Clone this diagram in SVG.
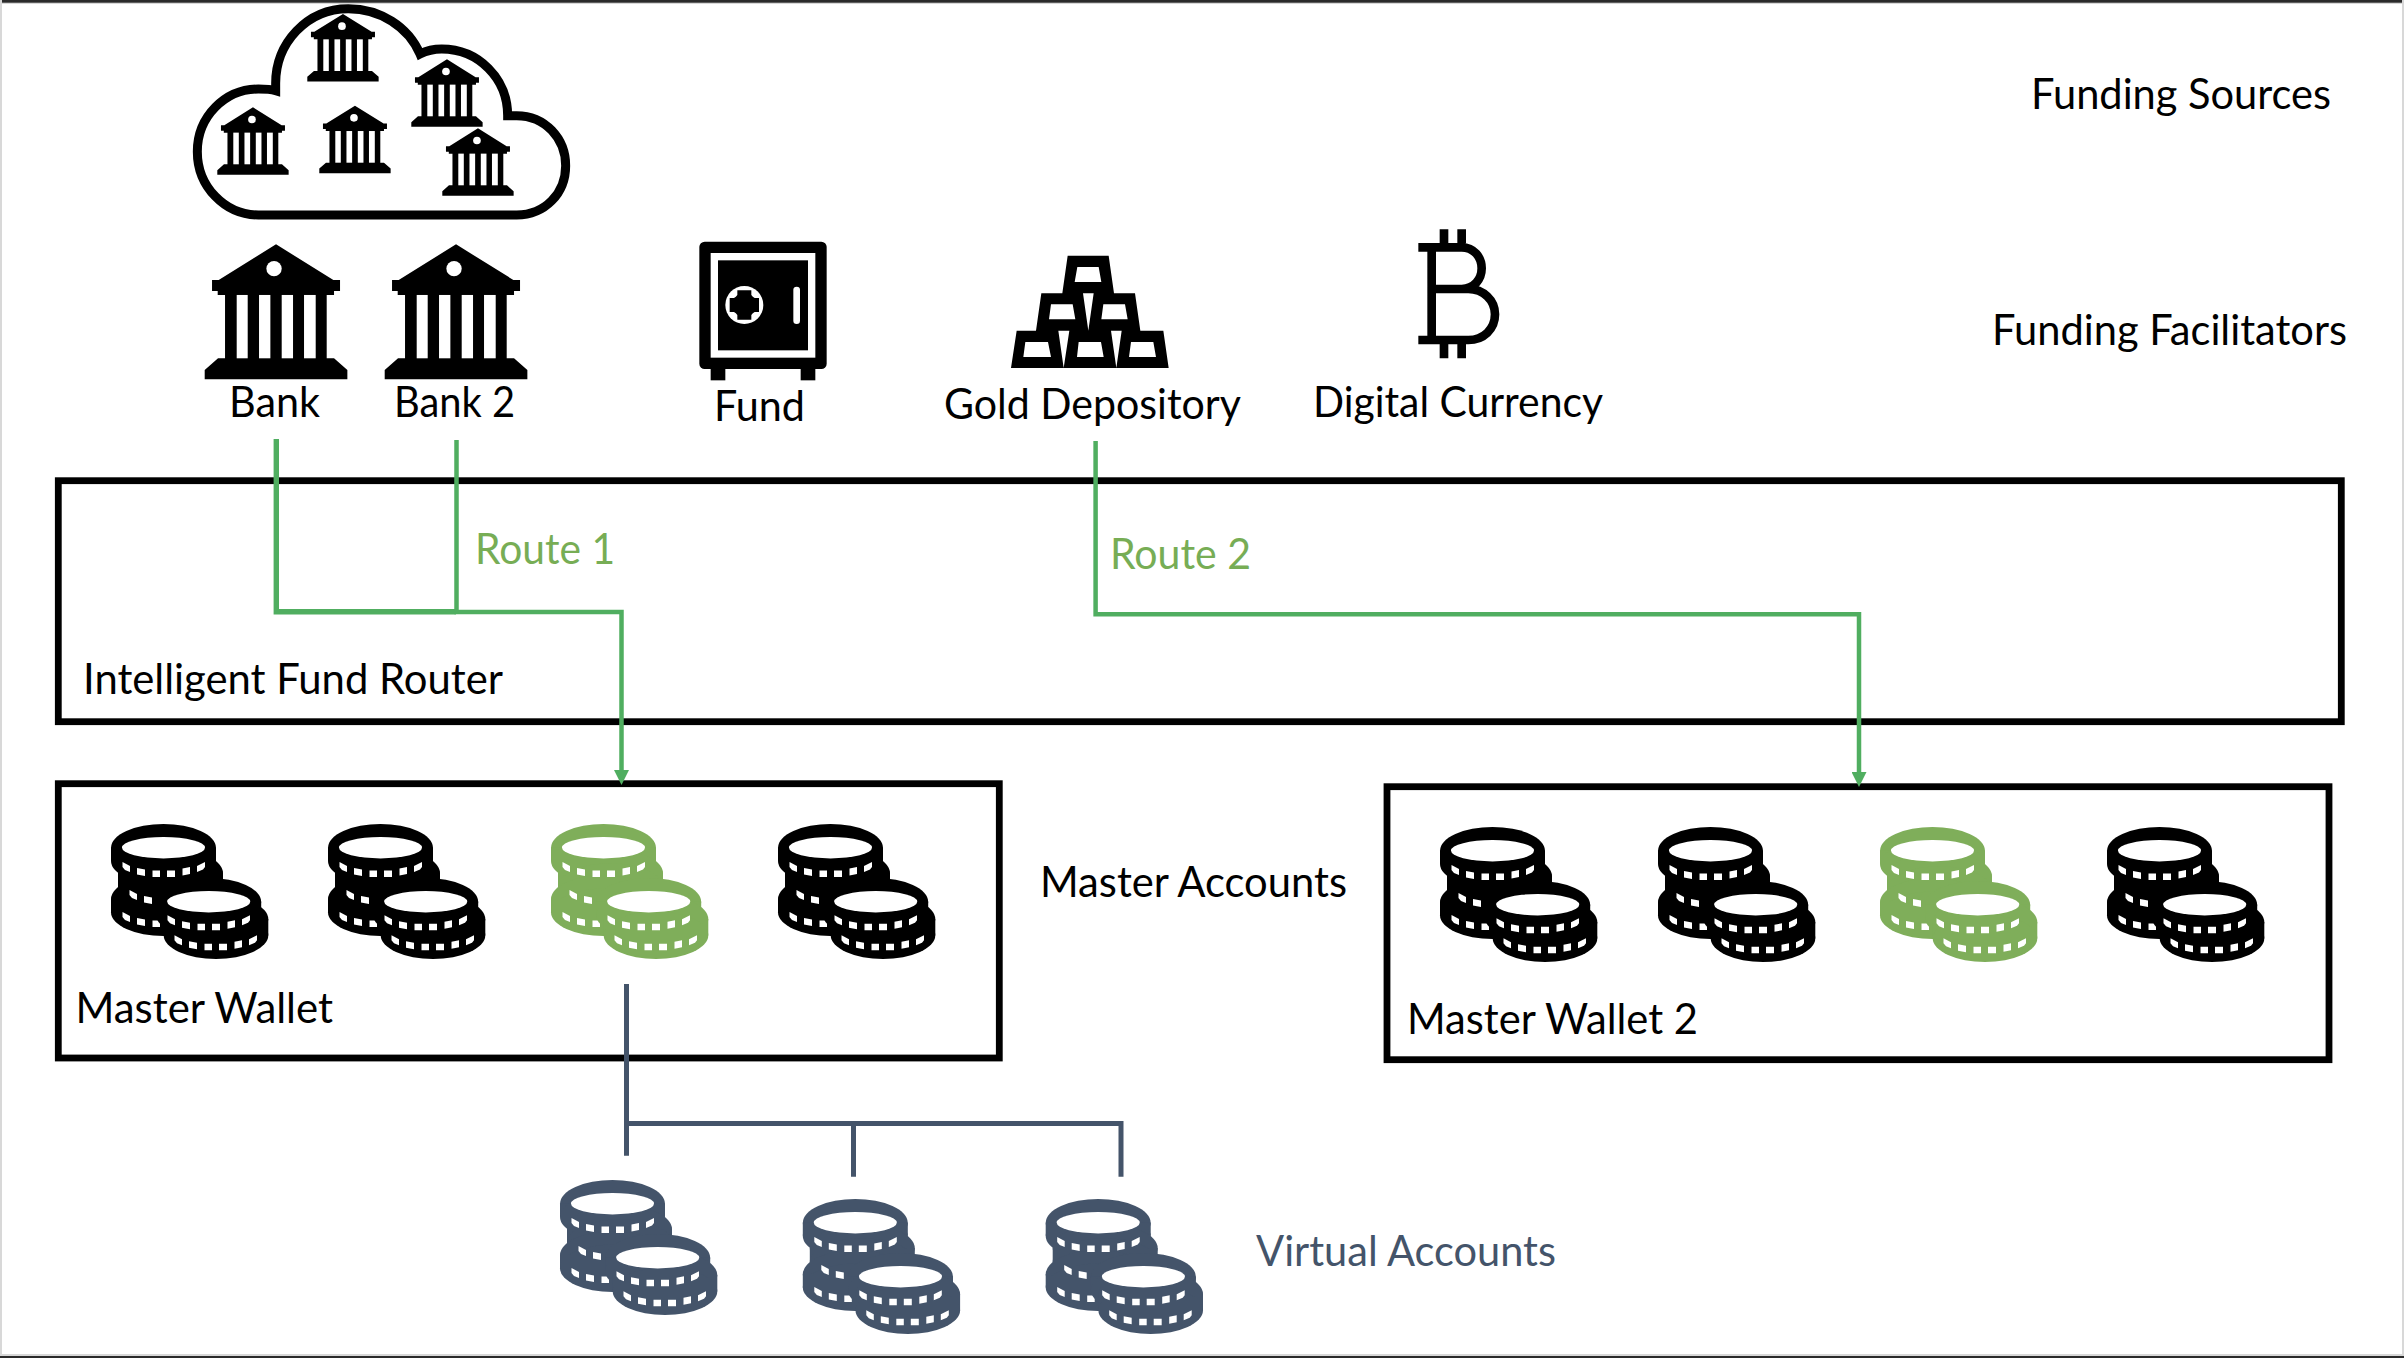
<svg xmlns="http://www.w3.org/2000/svg" xmlns:xlink="http://www.w3.org/1999/xlink" width="2404" height="1358" viewBox="0 0 2404 1358">
<style>
text{font-family:"Lato","Liberation Sans",sans-serif;font-size:42px;fill:#000}
.g{fill:#77AD55}
.b{fill:#44546A}
.box{fill:none;stroke:#000;stroke-width:6.8}
.rt{fill:none;stroke:#50AE60;stroke-width:4.5}
.vt{fill:none;stroke:#44546A;stroke-width:5}
.w{fill:#fff}
</style>
<defs>
<marker id="ah" markerUnits="userSpaceOnUse" markerWidth="15" markerHeight="15" refX="0" refY="7.5" orient="auto" viewBox="0 0 15 15"><path d="M0 0L15 7.5L0 15Z" fill="#50AE60"/></marker>
<g id="bank">
<path d="M214 0L386 107H406V140H388V152H366V342H388L428 377V405H0V377L40 342H61V152H39V140H22V107H42Z"/>
<g class="w"><circle cx="208" cy="73" r="23"/><rect x="96" y="152" width="33" height="190"/><rect x="163" y="152" width="34" height="190"/><rect x="231" y="152" width="34" height="190"/><rect x="298" y="152" width="35" height="190"/></g>
</g>
<g id="t">
<path d="M32.5 51L40 55V61L35 59L32.5 56Z M47 57L55 58.5V65L47 63.5Z M62.5 59.5H70V66H62.5Z M77 59.5H85V66H77Z M92.5 57.5L100 56V63L92.5 64.5Z M107 55L115 51V56L113 58.5L107 61Z" class="w"/>
</g>
<g id="coins" fill="currentColor">
<ellipse cx="73.5" cy="36.7" rx="52.5" ry="23.7"/><rect x="21" y="36.7" width="105" height="13"/><ellipse cx="73.5" cy="50" rx="52.5" ry="23.7"/>
<ellipse cx="80.5" cy="62" rx="52.5" ry="23.7"/><rect x="28" y="62" width="105" height="14"/><ellipse cx="80.5" cy="76" rx="52.5" ry="23.7"/>
<ellipse cx="73.5" cy="88" rx="52.5" ry="23.7"/><rect x="21" y="88" width="105" height="13.3"/><ellipse cx="73.5" cy="101.3" rx="52.5" ry="23.7"/>
<ellipse class="w" cx="73.5" cy="36.7" rx="41.5" ry="10.7"/>
<use href="#t"/><use href="#t" transform="translate(7 28)"/><use href="#t" transform="translate(0 50)"/>
<ellipse cx="118.7" cy="90.7" rx="52.5" ry="23.7"/><rect x="66.2" y="90.7" width="105" height="13"/><ellipse cx="118.7" cy="104" rx="52.5" ry="23.7"/>
<ellipse cx="126" cy="108" rx="52.3" ry="23.7"/><rect x="73.7" y="108" width="104.6" height="16.3"/><ellipse cx="126" cy="124.3" rx="52.3" ry="23.7"/>
<ellipse class="w" cx="118.7" cy="90.7" rx="41.5" ry="10.7"/>
<use href="#t" transform="translate(45 53.3)"/><use href="#t" transform="translate(52 73.3)"/>
</g>
</defs>
<rect width="2404" height="1358" fill="#fff"/>
<g id="frame">
<rect x="0" y="0" width="2404" height="4" fill="#d8d8d8"/><rect x="0" y="0" width="2404" height="2.7" fill="#2b2b2b"/>
<rect x="0" y="0" width="2" height="1358" fill="#d8d8d8"/><rect x="2402" y="0" width="2" height="1358" fill="#d8d8d8"/>
<rect x="0" y="1354" width="2404" height="4" fill="#d8d8d8"/><rect x="0" y="1356" width="2404" height="2" fill="#2b2b2b"/>
</g>
<g id="funding-sources">
<path transform="translate(170 0) scale(.33333)" d="M265 645H1040C1125 645 1187 580 1187 497C1187 415 1125 347 1040 347H1013C1013 235 925 147 815 147C790 147 770 152 750 162C715 80 630 26 535 26C410 26 317 130 317 250V272C300 267 285 267 265 267C165 267 82 350 82 455C82 560 165 645 265 645Z" fill="none" stroke="#000" stroke-width="27"/>
<use href="#bank" transform="translate(307.3 14) scale(.16667)"/>
<use href="#bank" transform="translate(411.3 59.3) scale(.16667)"/>
<use href="#bank" transform="translate(217.3 107.3) scale(.16667)"/>
<use href="#bank" transform="translate(319.3 105.7) scale(.16667)"/>
<use href="#bank" transform="translate(442.3 128.3) scale(.16667)"/>
<text x="2031" y="109" textLength="300" lengthAdjust="spacingAndGlyphs">Funding Sources</text>
</g>
<g id="funding-facilitators"><text x="1992" y="345" textLength="355" lengthAdjust="spacingAndGlyphs">Funding Facilitators</text></g>
<g id="bank-1"><use href="#bank" transform="translate(204.7 244.3) scale(.33333)"/><text x="229" y="417" textLength="91" lengthAdjust="spacingAndGlyphs">Bank</text></g>
<g id="bank-2"><use href="#bank" transform="translate(384.7 244.3) scale(.33333)"/><text x="394" y="417" textLength="121" lengthAdjust="spacingAndGlyphs">Bank 2</text></g>
<g id="fund">
<g transform="translate(680 225) scale(.33333)">
<rect x="92" y="432" width="44" height="34"/><rect x="362" y="432" width="44" height="34"/>
<rect x="58" y="50" width="382" height="382" rx="16"/>
<rect x="92" y="84" width="314" height="314" class="w"/>
<rect x="114" y="106" width="270" height="270"/>
<circle cx="193" cy="240" r="57" class="w"/>
<path d="M172 196H214V210A30 30 0 0 0 224 219H237V261H224A30 30 0 0 0 214 270V284H172V270A30 30 0 0 0 162 261H149V219H162A30 30 0 0 0 172 210Z"/>
<rect x="340" y="185" width="20" height="112" rx="10" class="w"/>
</g>
<text x="714" y="421" textLength="91" lengthAdjust="spacingAndGlyphs">Fund</text>
</g>
<g id="gold-depository">
<g transform="translate(1000 240) scale(.33333)">
<path d="M203 47H326L342 160H405L421 272H490L506 384H33L50 272H108L124 160H187Z"/>
<path class="w" d="M232 81H296L304 126H224Z M153 193H218L226 238H147Z M310 193H375L383 238H304Z M76 306H144L153 351H70Z M236 306H303L311 351H231Z M393 306H460L468 351H387Z M249 160H281L265 272Z M175 272H208L191 384Z M333 272H365L349 384Z"/>
</g>
<text x="944" y="419" textLength="297" lengthAdjust="spacingAndGlyphs">Gold Depository</text>
</g>
<g id="digital-currency">
<path transform="translate(1380 220) scale(.33333)" d="M155 82V360M115 82H245C282 82 305 112 305 145C305 178 282 207 245 207H155M245 207H265C310 207 345 240 345 283C345 328 310 360 265 360H115M192 28V70M245 28V70M192 372V415M245 372V415" fill="none" stroke="#000" stroke-width="26"/>
<text x="1313" y="417" textLength="290" lengthAdjust="spacingAndGlyphs">Digital Currency</text>
</g>
<g id="intelligent-fund-router"><rect class="box" x="58.3" y="480.7" width="2283" height="241"/><text x="83" y="694" textLength="420" lengthAdjust="spacingAndGlyphs">Intelligent Fund Router</text></g>
<g id="master-wallet">
<rect class="box" x="58.3" y="783.7" width="941" height="274.3"/>
<use href="#coins" x="90" y="811"/><use href="#coins" x="307" y="811"/><use href="#coins" x="530" y="811" color="#7FAE5A"/><use href="#coins" x="757" y="811"/>
<text x="75.5" y="1023" textLength="257.5" lengthAdjust="spacingAndGlyphs">Master Wallet</text>
</g>
<g id="master-accounts"><text x="1040" y="897" textLength="307" lengthAdjust="spacingAndGlyphs">Master Accounts</text></g>
<g id="master-wallet-2">
<rect class="box" x="1387" y="786.7" width="942" height="273"/>
<use href="#coins" x="1419" y="814"/><use href="#coins" x="1637" y="814"/><use href="#coins" x="1859" y="814" color="#7FAE5A"/><use href="#coins" x="2086" y="814"/>
<text x="1407" y="1034" textLength="291" lengthAdjust="spacingAndGlyphs">Master Wallet 2</text>
</g>
<g id="virtual-accounts">
<use href="#coins" x="539" y="1167" color="#44546A"/><use href="#coins" x="781.8" y="1186" color="#44546A"/><use href="#coins" x="1024.7" y="1186" color="#44546A"/>
<text class="b" x="1256" y="1266" textLength="300" lengthAdjust="spacingAndGlyphs">Virtual Accounts</text>
</g>
<g id="connectors">
<path class="rt" style="stroke-width:5.4" d="M276.3 439V611.7H456"/>
<path class="rt" d="M456.5 440V612H621.5V770" marker-end="url(#ah)"/>
<path class="rt" d="M1095.6 441V614.3H1859V772" marker-end="url(#ah)"/>
<path class="vt" d="M626.5 984V1155.7M626.5 1123.5H1121V1176.7M853.5 1123.5V1176.7"/>
</g>
<text class="g" x="475" y="564" textLength="140" lengthAdjust="spacingAndGlyphs">Route 1</text>
<text class="g" x="1110" y="569" textLength="141" lengthAdjust="spacingAndGlyphs">Route 2</text>
</svg>
